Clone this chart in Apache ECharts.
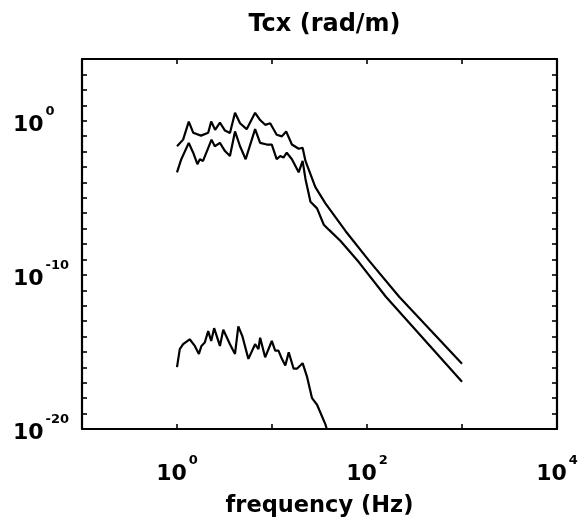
<!DOCTYPE html>
<html><head><meta charset="utf-8">
<script src="https://cdn.jsdelivr.net/npm/echarts@6/dist/echarts.min.js"></script>
<style>html,body{margin:0;padding:0;background:#fff}#c{width:587px;height:523px}</style>
</head><body><div id="c"></div>
<script>
// Upper curve
const freqA = [1, 1.16, 1.33, 1.48, 1.79, 2.13, 2.29, 2.52, 2.83, 3.2, 3.61, 4.08, 4.61, 5.41, 6.64, 7.5, 8.47, 9.57, 11.2, 12.7, 14.1, 16.2, 19.1, 21.0, 22.5, 28.6, 36.5, 59.6, 105, 218, 1000];
const tcxA = [2.19e-2, 5.89e-2, 8.7e-1, 1.66e-1, 1.07e-1, 1.66e-1, 8.7e-1, 2.57e-1, 7.41e-1, 2.29e-1, 1.58e-1, 3.24, 6.76e-1, 2.82e-1, 3.24, 1.10, 5.37e-1, 6.76e-1, 1.23e-1, 9.55e-2, 2.0e-1, 2.82e-2, 1.51e-2, 1.74e-2, 2.45e-3, 4.9e-5, 4.27e-6, 6.76e-8, 8.32e-10, 3.8e-12, 1.7e-16];
// Middle curve
const freqB = [1, 1.11, 1.33, 1.48, 1.64, 1.74, 1.88, 2.31, 2.5, 2.83, 3.2, 3.61, 4.08, 4.61, 5.28, 6.64, 7.5, 8.81, 9.95, 11.2, 12.2, 13.2, 14.3, 16.2, 19.1, 21.0, 22.5, 25.4, 29.8, 35.1, 39.6, 52.7, 82.3, 158, 1000];
const tcxB = [4.47e-4, 3.16e-3, 3.63e-2, 8.32e-3, 1.51e-3, 3.16e-3, 2.45e-3, 5.89e-2, 2.19e-2, 3.63e-2, 1.07e-2, 5.13e-3, 2.0e-1, 2.19e-2, 3.16e-3, 2.82e-1, 3.63e-2, 2.82e-2, 2.82e-2, 3.16e-3, 5.13e-3, 4.07e-3, 8.32e-3, 3.16e-3, 4.47e-4, 2.45e-3, 1.66e-4, 5.5e-6, 2.04e-6, 1.78e-7, 8.51e-8, 1.55e-8, 6.46e-10, 3.8e-12, 1.15e-17];
// Lower curve
const freqC = [1, 1.07, 1.16, 1.36, 1.54, 1.70, 1.81, 1.96, 2.13, 2.29, 2.46, 2.83, 3.07, 3.61, 4.08, 4.42, 4.87, 5.64, 6.64, 7.2, 7.5, 8.47, 9.95, 10.8, 11.7, 12.7, 13.8, 15.0, 16.9, 18.3, 21.0, 23.4, 26.4, 29.8, 36.5, 37.7];
const tcxC = [1.02e-16, 1.51e-15, 3.16e-15, 6.61e-15, 2.45e-15, 7.41e-16, 2.45e-15, 4.07e-15, 2.24e-14, 5.13e-15, 3.47e-14, 2.45e-15, 2.75e-14, 3.16e-15, 7.41e-16, 4.57e-14, 1.07e-14, 3.55e-16, 3.16e-15, 1.51e-15, 8.32e-15, 4.47e-16, 5.13e-15, 1.2e-15, 1.2e-15, 3.55e-16, 1.32e-16, 9.33e-16, 8.13e-17, 8.13e-17, 1.86e-16, 2.4e-17, 1e-18, 3.72e-19, 2e-20, 1e-20];

const xLabelExps = [0, 2, 4];
const yLabelExps = [0, -10, -20];
const titleText = 'Tcx (rad/m)';
const xName = 'frequency (Hz)';

const FONT = 'DejaVu Sans';
const INK = '#000';

function pairs(xs, ys) { return xs.map((x, i) => [x, ys[i]]); }
function expOf(v) { return Math.round(Math.log(v) / Math.LN10); }
const rich = {
  b: { fontSize: 22, fontWeight: 'bold', fontFamily: FONT, color: INK, lineHeight: 31, verticalAlign: 'bottom' },
  s: { fontSize: 13, fontWeight: 'bold', fontFamily: FONT, color: INK, lineHeight: 15, verticalAlign: 'top', padding: [0, 0, 0, 2] }
};
function labelFmt(allowed) {
  return function (v) {
    const e = expOf(v);
    if (allowed.indexOf(e) < 0) return '';
    return '{b|10}{s|' + e + '}';
  };
}
const lineStyleAxis = { color: INK, width: 2.2 };
const tickStyle = { show: true, inside: true, length: 5, lineStyle: { color: INK, width: 1.6 } };
const labelBase = { fontSize: 22, fontWeight: 'bold', fontFamily: FONT, color: INK, rich: rich, showMinLabel: true, showMaxLabel: true, hideOverlap: false };

const chart = echarts.init(document.getElementById('c'), null, { renderer: 'canvas' });
chart.setOption({
  animation: false,
  backgroundColor: '#fff',
  title: {
    text: titleText, left: 319.5, top: 8, textAlign: 'center',
    textStyle: { fontFamily: FONT, fontSize: 24, fontWeight: 'bold', color: INK }
  },
  grid: { left: 82, top: 59, right: 30, bottom: 89, containLabel: false },
  xAxis: [
    {
      type: 'log', logBase: 10, min: 0.1, max: 10000, interval: 1, position: 'bottom',
      axisLine: { show: true, lineStyle: lineStyleAxis },
      axisTick: tickStyle, splitLine: { show: false }, minorTick: { show: false },
      axisLabel: Object.assign({ formatter: labelFmt(xLabelExps), margin: 25 }, labelBase),
      name: xName, nameLocation: 'middle', nameGap: 66,
      nameTextStyle: { fontFamily: FONT, fontSize: 22.5, fontWeight: 'bold', color: INK }
    },
    {
      type: 'log', logBase: 10, min: 0.1, max: 10000, interval: 1, position: 'top',
      axisLine: { show: true, lineStyle: lineStyleAxis },
      axisTick: tickStyle, splitLine: { show: false }, axisLabel: { show: false }
    }
  ],
  yAxis: [
    {
      type: 'log', logBase: 10, min: 1e-20, max: 1e4, interval: 1, position: 'left',
      axisLine: { show: true, lineStyle: lineStyleAxis },
      axisTick: tickStyle, splitLine: { show: false },
      axisLabel: Object.assign({ formatter: labelFmt(yLabelExps), margin: 69, align: 'left' }, labelBase)
    },
    {
      type: 'log', logBase: 10, min: 1e-20, max: 1e4, interval: 1, position: 'right',
      axisLine: { show: true, lineStyle: lineStyleAxis },
      axisTick: tickStyle, splitLine: { show: false }, axisLabel: { show: false }
    }
  ],
  series: [
    { type: 'line', data: pairs(freqA, tcxA), xAxisIndex: 0, yAxisIndex: 0, showSymbol: false, symbol: 'none', clip: true, lineStyle: { color: INK, width: 2.2 } },
    { type: 'line', data: pairs(freqB, tcxB), xAxisIndex: 0, yAxisIndex: 0, showSymbol: false, symbol: 'none', clip: true, lineStyle: { color: INK, width: 2.2 } },
    { type: 'line', data: pairs(freqC, tcxC), xAxisIndex: 0, yAxisIndex: 0, showSymbol: false, symbol: 'none', clip: true, lineStyle: { color: INK, width: 2.2 } }
  ]
});
</script>
</body></html>
